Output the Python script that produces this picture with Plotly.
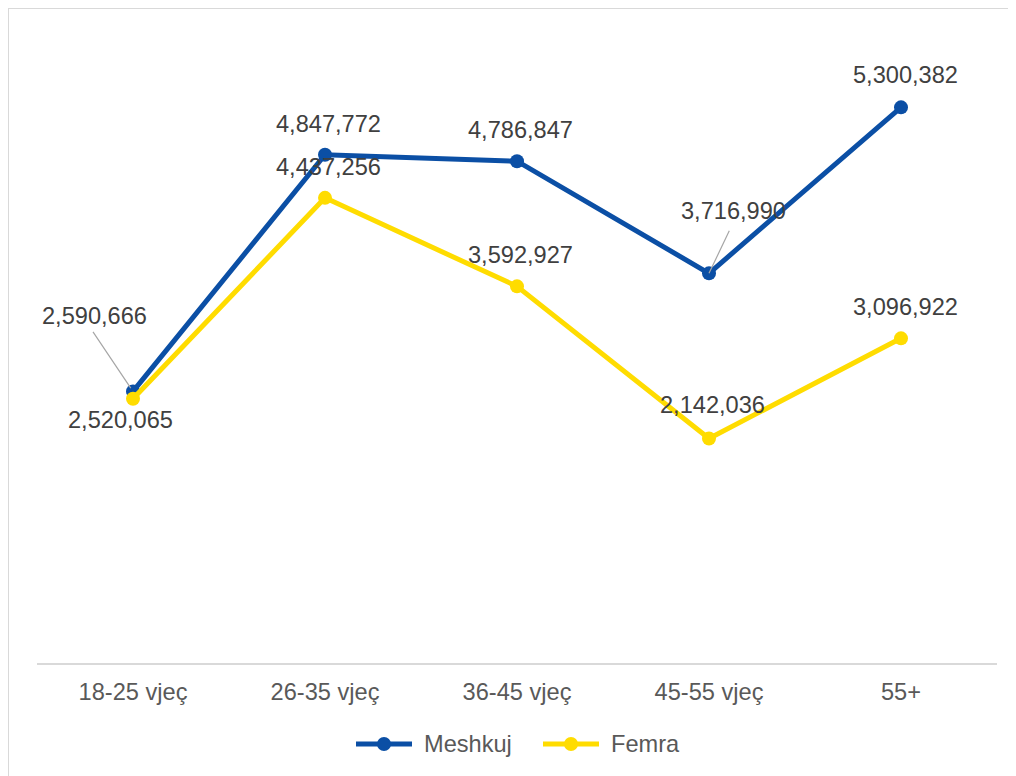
import plotly.graph_objects as go

# age groups and totals per gender
categories = ["18-25 vjeç", "26-35 vjeç", "36-45 vjeç", "45-55 vjeç", "55+"]
meshkuj = [2590666, 4847772, 4786847, 3716990, 5300382]
femra = [2520065, 4437256, 3592927, 2142036, 3096922]
series_names = ["Meshkuj", "Femra"]

blue = "#0B4FA5"
yellow = "#FFDC00"
label_color = "#404040"
text_color = "#595959"
font_family = "Liberation Sans, Arial, sans-serif"
fsize = 23.6

fig = go.Figure()
fig.add_trace(go.Scatter(x=categories, y=meshkuj, name=series_names[0], mode="lines+markers",
                         line=dict(color=blue, width=5), marker=dict(size=14, color=blue)))
fig.add_trace(go.Scatter(x=categories, y=femra, name=series_names[1], mode="lines+markers",
                         line=dict(color=yellow, width=5), marker=dict(size=14, color=yellow)))

# label offsets (xshift, yshift) in pixels
m_shift = [(-39, 75), (3, 31), (3, 31), (24, 62), (4, 32)]
f_shift = [(-13, -21), (3, 31), (3, 31), (3, 33), (4, 31)]

annotations = []
for cat, v, (dx, dy) in zip(categories, meshkuj, m_shift):
    annotations.append(dict(x=cat, y=v, text=f"{v:,}", showarrow=False, xshift=dx, yshift=dy,
                            font=dict(size=fsize, color=label_color, family=font_family)))
for cat, v, (dx, dy) in zip(categories, femra, f_shift):
    annotations.append(dict(x=cat, y=v, text=f"{v:,}", showarrow=False, xshift=dx, yshift=dy,
                            font=dict(size=fsize, color=label_color, family=font_family)))

# leader lines for two labels that sit away from their points
for cat, v, ax, ay, st in [(categories[0], meshkuj[0], -41, -61, 4), (categories[3], meshkuj[3], 21, -44, 0)]:
    annotations.append(dict(x=cat, y=v, text="", showarrow=True, arrowhead=0, arrowwidth=1.2,
                            arrowcolor="#A6A6A6", ax=ax, ay=ay, standoff=st))

# plot area in figure pixels (page body adds 8px offset, so the figure is 8px smaller)
W, H = 1008, 768
L, R, T, B = 29, 19, 26, 113
pw, ph = W - L - R, H - T - B


def px(x):
    return (x - L) / pw


def py(y):
    return (H - B - y) / ph


shapes = [dict(type="rect", xref="paper", yref="paper", x0=px(0), x1=1.2, y0=-0.5, y1=py(0),
               line=dict(color="#D9D9D9", width=2), layer="below")]

# legend drawn by hand: longer line symbols like the original
leg_y = 736
for name, color, x_start in zip(series_names, [blue, yellow], [348, 535]):
    shapes.append(dict(type="line", xref="paper", yref="paper", x0=px(x_start), x1=px(x_start + 56),
                       y0=py(leg_y), y1=py(leg_y), line=dict(color=color, width=5)))
    shapes.append(dict(type="circle", xref="paper", yref="paper", xsizemode="pixel", ysizemode="pixel",
                       xanchor=px(x_start + 28), yanchor=py(leg_y), x0=-7, x1=7, y0=-7, y1=7,
                       fillcolor=color, line=dict(width=0)))
    annotations.append(dict(xref="paper", yref="paper", x=px(x_start + 66), y=py(leg_y), text=name,
                            showarrow=False, xanchor="left", yanchor="middle",
                            font=dict(size=fsize, color=text_color, family=font_family)))

fig.update_layout(
    width=W, height=H,
    margin=dict(l=L, r=R, t=T, b=B),
    paper_bgcolor="white", plot_bgcolor="white",
    font=dict(family=font_family, size=fsize, color=text_color),
    annotations=annotations,
    shapes=shapes,
    showlegend=False,
)
fig.update_xaxes(showline=True, linecolor="#D9D9D9", linewidth=1.5, showgrid=False, ticks="",
                 range=[-0.5, 4.5], ticklabelstandoff=7, tickfont=dict(size=fsize, color=text_color))
fig.update_yaxes(visible=False, range=[0, 6000000])

fig.write_html("out.html")
